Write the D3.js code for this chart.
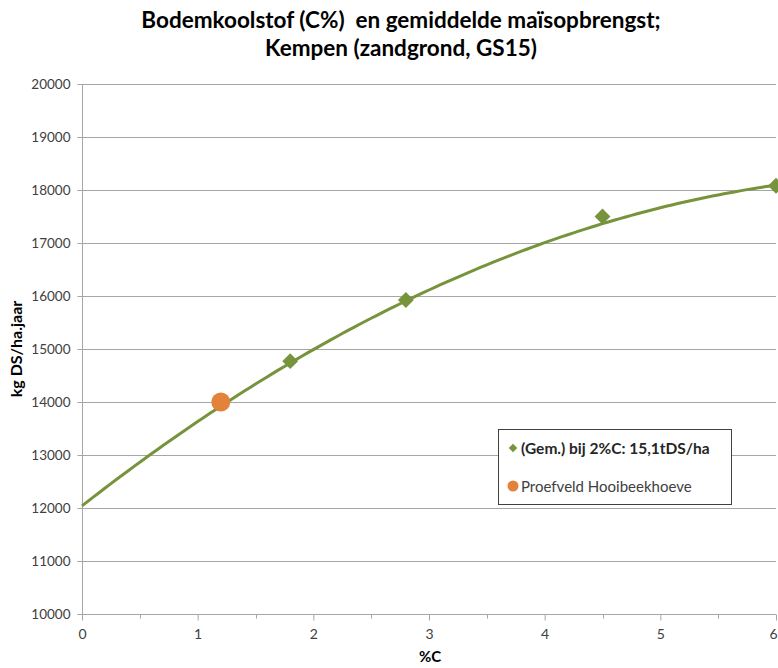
<!DOCTYPE html>
<html>
<head>
<meta charset="utf-8">
<script src="https://cdn.jsdelivr.net/npm/d3@7"></script>
<style>
  html, body { margin: 0; padding: 0; background: #fff; }
  svg { display: block; }
  text { white-space: pre; }
</style>
</head>
<body>
<svg id="chart" width="778" height="668"></svg>
<script>
// Mean maize yield per soil carbon class (Kempen, sandy soil)
const carbonPct = [1.8, 2.8, 4.5, 6.0];
const yieldKg = [14770, 15925, 17500, 18080];

// Trial field
const trialCarbon = [1.2];
const trialYield = [14000];

// Second-order trend line: a + b*x + c*x^2
const trendCoef = [12040, 1707, -116.4];

const xTicks = [0, 1, 2, 3, 4, 5, 6];
const xMinorTicks = [0.5, 1.5, 2.5, 3.5, 4.5, 5.5];
const yTicks = [10000, 11000, 12000, 13000, 14000, 15000, 16000, 17000, 18000, 19000, 20000];

const titleLines = ["Bodemkoolstof (C%)  en gemiddelde maïsopbrengst;", "Kempen (zandgrond, GS15)"];
const legendLabels = ["(Gem.) bij 2%C: 15,1tDS/ha", "Proefveld Hooibeekhoeve"];

const green = "#77933C";
const orange = "#E3823A";
const gridColor = "#A6A6A6";
const textColor = "#404040";
const font = "Lato, 'Open Sans', sans-serif";

const svg = d3.select("#chart");
const plot = { left: 82, right: 776, top: 84, bottom: 614 };

const x = d3.scaleLinear().domain([0, 6]).range([plot.left, plot.right]);
const y = d3.scaleLinear().domain([10000, 20000]).range([plot.bottom, plot.top]);

// Title
svg.append("g").selectAll("text").data(titleLines).join("text")
  .attr("x", 401).attr("y", (d, i) => 28 + i * 28)
  .attr("text-anchor", "middle")
  .attr("font-family", font).attr("font-weight", "bold").attr("font-size", 22.5)
  .attr("fill", "#000")
  .text(d => d);

// Horizontal gridlines
svg.append("g").selectAll("line").data(yTicks.filter(t => t > 10000)).join("line")
  .attr("x1", plot.left).attr("x2", plot.right)
  .attr("y1", d => Math.round(y(d)) + 0.5).attr("y2", d => Math.round(y(d)) + 0.5)
  .attr("stroke", gridColor).attr("stroke-width", 1);

// Y axis
const yAxis = svg.append("g").attr("transform", `translate(${plot.left + 0.5},0)`)
  .call(d3.axisLeft(y).tickValues(yTicks).tickSize(5).tickPadding(7).tickFormat(d3.format("d")));
yAxis.select(".domain").attr("stroke", gridColor).attr("d", `M0,${plot.top}V${plot.bottom + 6}`);
yAxis.selectAll(".tick line").attr("stroke", gridColor);
yAxis.selectAll(".tick text").attr("font-family", font).attr("font-size", 13.5).attr("fill", textColor);

// X axis
const xAxis = svg.append("g").attr("transform", `translate(0,${plot.bottom + 0.5})`)
  .call(d3.axisBottom(x).tickValues(xTicks).tickSize(6).tickPadding(9).tickFormat(d3.format("d")));
xAxis.select(".domain").attr("stroke", gridColor).attr("d", `M${plot.left},0H${plot.right}`);
xAxis.selectAll(".tick line").attr("stroke", gridColor);
xAxis.selectAll(".tick text").attr("font-family", font).attr("font-size", 14).attr("fill", textColor);
// keep the last label inside the canvas
xAxis.selectAll(".tick text").filter(d => d === 6).attr("text-anchor", "end").attr("dx", 1);

svg.append("g").attr("transform", `translate(0,${plot.bottom + 0.5})`)
  .selectAll("line").data(xMinorTicks).join("line")
  .attr("x1", d => Math.round(x(d)) + 0.5).attr("x2", d => Math.round(x(d)) + 0.5)
  .attr("y1", 0).attr("y2", 4)
  .attr("stroke", gridColor);

// Axis titles
svg.append("text")
  .attr("x", x(3) + 1).attr("y", 662)
  .attr("text-anchor", "middle")
  .attr("font-family", font).attr("font-weight", "bold").attr("font-size", 15)
  .attr("fill", "#000").text("%C");

svg.append("text")
  .attr("transform", `translate(22,${(plot.top + plot.bottom) / 2}) rotate(-90)`)
  .attr("text-anchor", "middle")
  .attr("font-family", font).attr("font-weight", "bold").attr("font-size", 16)
  .attr("fill", "#000").text("kg DS/ha.jaar");

// Trend line
const trend = v => trendCoef[0] + trendCoef[1] * v + trendCoef[2] * v * v;
const trendPts = d3.range(0, 6.0001, 0.05).map(v => [v, trend(v)]);
svg.append("path")
  .datum(trendPts)
  .attr("fill", "none").attr("stroke", green).attr("stroke-width", 3)
  .attr("d", d3.line().x(d => x(d[0])).y(d => y(d[1])));

// Mean yield diamonds
svg.append("g").selectAll("path").data(carbonPct).join("path")
  .attr("d", d3.symbol().type(d3.symbolSquare).size(125)())
  .attr("transform", (d, i) => `translate(${x(d)},${y(yieldKg[i])}) rotate(45)`)
  .attr("fill", green);

// Trial field point
svg.append("g").selectAll("circle").data(trialCarbon).join("circle")
  .attr("cx", d => x(d)).attr("cy", (d, i) => y(trialYield[i]))
  .attr("r", 9.5)
  .attr("fill", orange);

// Legend
const lg = svg.append("g");
lg.append("rect")
  .attr("x", 498.5).attr("y", 429.5).attr("width", 233).attr("height", 75)
  .attr("fill", "#fff").attr("stroke", "#404040").attr("stroke-width", 1);
lg.append("path")
  .attr("d", d3.symbol().type(d3.symbolSquare).size(36)())
  .attr("transform", "translate(513,448) rotate(45)")
  .attr("fill", green);
lg.append("circle").attr("cx", 513).attr("cy", 486).attr("r", 5.5).attr("fill", orange);
lg.append("text")
  .attr("x", 521).attr("y", 454)
  .attr("font-family", font).attr("font-weight", "bold").attr("font-size", 15.5)
  .attr("fill", "#262626").text(legendLabels[0]);
lg.append("text")
  .attr("x", 521).attr("y", 492)
  .attr("font-family", font).attr("font-size", 15)
  .attr("fill", textColor).text(legendLabels[1]);
</script>
</body>
</html>
